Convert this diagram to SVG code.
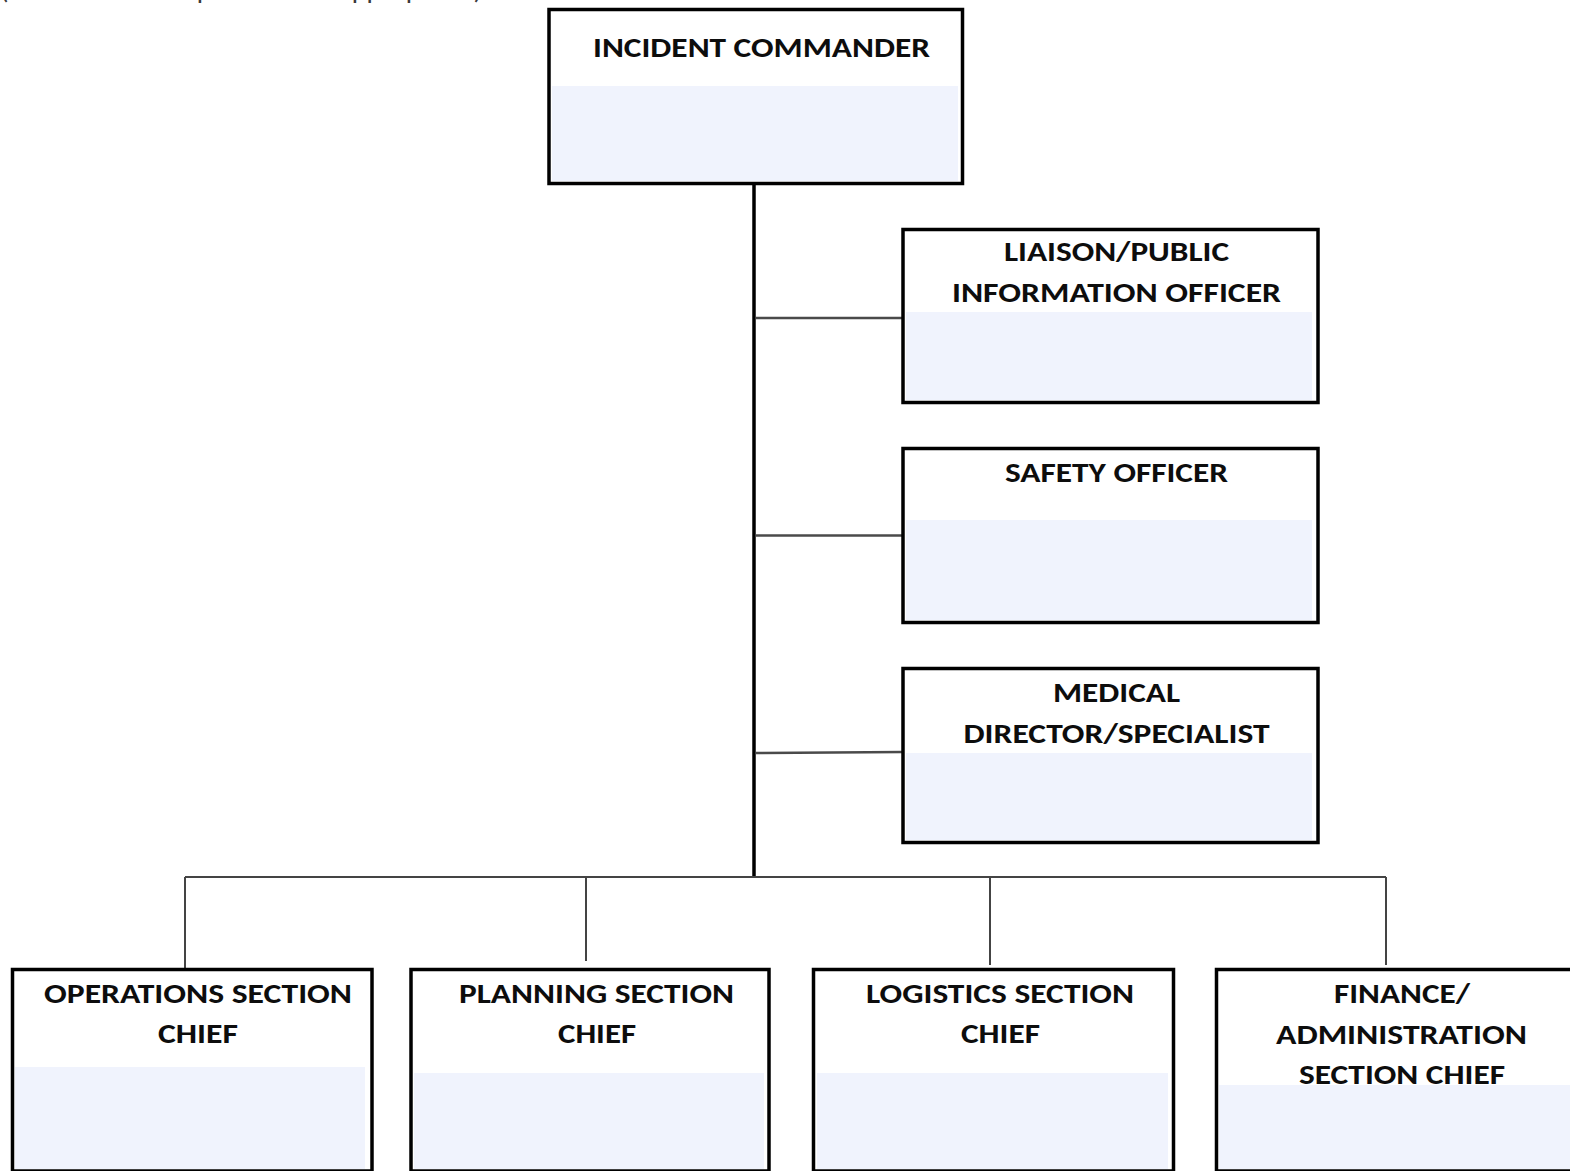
<svg xmlns="http://www.w3.org/2000/svg" width="1570" height="1171" viewBox="0 0 1570 1171">
<style>
.box{fill:#ffffff;stroke:#000000;stroke-width:3.5}
.band{fill:#f0f3fd}
.lbl{font-family:Carlito,Lato,"Liberation Sans",sans-serif;font-weight:bold;font-size:28px;fill:#0d0d0d;text-anchor:middle}
.trunk{stroke:#000000;stroke-width:3.5;fill:none}
.br{stroke:#4a4a4a;stroke-width:2.5;fill:none}
.bus{stroke:#444444;stroke-width:2;fill:none}
.note{font-family:Carlito,Lato,"Liberation Sans",sans-serif;font-size:24px;fill:#3a3a3a}
</style>
<rect width="1570" height="1171" fill="#ffffff"/>
<text class="note" x="0" y="-1" textLength="482" lengthAdjust="spacingAndGlyphs">(Fill in additional positions as appropriate)</text>

<g id="connectors">
<line class="trunk" x1="754" y1="183" x2="754" y2="877"/>
<line class="br" x1="756" y1="318" x2="903" y2="318"/>
<line class="br" x1="756" y1="535.5" x2="903" y2="535.5"/>
<line class="br" x1="756" y1="753" x2="903" y2="752"/>
<line class="bus" x1="185" y1="877" x2="1386" y2="877"/>
<line class="bus" x1="185" y1="877" x2="185" y2="968"/>
<line class="bus" x1="586" y1="877" x2="586" y2="961"/>
<line class="bus" x1="990" y1="877" x2="990" y2="965"/>
<line class="bus" x1="1386" y1="877" x2="1386" y2="965"/>
</g>

<g id="incident-commander">
<rect class="box" x="549" y="9.5" width="413.5" height="174"/>
<rect class="band" x="552" y="86" width="406" height="95"/>
<text class="lbl" x="761.5" y="57" textLength="337" lengthAdjust="spacingAndGlyphs">INCIDENT COMMANDER</text>
</g>

<g id="liaison-pio">
<rect class="box" x="903" y="229.5" width="415" height="173"/>
<rect class="band" x="906" y="312" width="406" height="88"/>
<text class="lbl" x="1116.5" y="261" textLength="225" lengthAdjust="spacingAndGlyphs">LIAISON/PUBLIC</text>
<text class="lbl" x="1116.5" y="302" textLength="329" lengthAdjust="spacingAndGlyphs">INFORMATION OFFICER</text>
</g>

<g id="safety-officer">
<rect class="box" x="903" y="448.5" width="415" height="174"/>
<rect class="band" x="906" y="520" width="406" height="100"/>
<text class="lbl" x="1116.5" y="482" textLength="223" lengthAdjust="spacingAndGlyphs">SAFETY OFFICER</text>
</g>

<g id="medical-director">
<rect class="box" x="903" y="668.5" width="415" height="174"/>
<rect class="band" x="906" y="753" width="406" height="87"/>
<text class="lbl" x="1116.5" y="702" textLength="127" lengthAdjust="spacingAndGlyphs">MEDICAL</text>
<text class="lbl" x="1116.5" y="743" textLength="306" lengthAdjust="spacingAndGlyphs">DIRECTOR/SPECIALIST</text>
</g>

<g id="operations-chief">
<rect class="box" x="12.5" y="969.5" width="359.5" height="201.5"/>
<rect class="band" x="15" y="1067" width="350" height="102"/>
<text class="lbl" x="198" y="1003" textLength="308" lengthAdjust="spacingAndGlyphs">OPERATIONS SECTION</text>
<text class="lbl" x="198" y="1043" textLength="80" lengthAdjust="spacingAndGlyphs">CHIEF</text>
</g>

<g id="planning-chief">
<rect class="box" x="411" y="969.5" width="358" height="201.5"/>
<rect class="band" x="414" y="1073" width="350" height="96"/>
<text class="lbl" x="596.5" y="1003" textLength="275" lengthAdjust="spacingAndGlyphs">PLANNING SECTION</text>
<text class="lbl" x="597" y="1043" textLength="78" lengthAdjust="spacingAndGlyphs">CHIEF</text>
</g>

<g id="logistics-chief">
<rect class="box" x="813.5" y="969.5" width="360" height="201.5"/>
<rect class="band" x="817" y="1073" width="351" height="96"/>
<text class="lbl" x="1000" y="1003" textLength="268" lengthAdjust="spacingAndGlyphs">LOGISTICS SECTION</text>
<text class="lbl" x="1000.5" y="1043" textLength="79" lengthAdjust="spacingAndGlyphs">CHIEF</text>
</g>

<g id="finance-admin-chief">
<rect class="box" x="1216.5" y="969.5" width="360" height="201.5"/>
<rect class="band" x="1219" y="1085" width="355" height="84"/>
<text class="lbl" x="1402" y="1003" textLength="136" lengthAdjust="spacingAndGlyphs">FINANCE/</text>
<text class="lbl" x="1401.5" y="1044" textLength="251" lengthAdjust="spacingAndGlyphs">ADMINISTRATION</text>
<text class="lbl" x="1402" y="1084" textLength="206" lengthAdjust="spacingAndGlyphs">SECTION CHIEF</text>
</g>
</svg>
